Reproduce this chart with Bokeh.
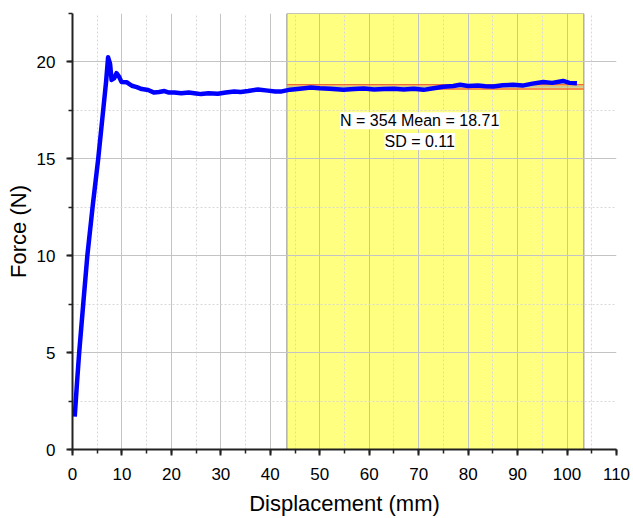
from bokeh.plotting import figure
from bokeh.models import Range1d, Label, SingleIntervalTicker, ColumnDataSource
from bokeh.embed import file_html
from bokeh.resources import INLINE

# displacement (mm) and force (N)
disp = [0.45, 0.9, 1.35, 2.2, 3.0, 4.1, 5.2, 6.2, 6.8, 7.2, 7.6, 7.9, 8.4, 8.9, 9.4, 9.9, 11.0,
        12.0, 13.0, 14.0, 15.3, 16.5, 17.5, 18.6, 19.5, 20.6, 22.0, 23.5, 25.0, 26.0, 27.5,
        29.4, 31.0, 32.7, 34.0, 35.5, 37.5, 39.5, 41.0, 42.1, 44.0, 46.0, 48.2, 50.0, 52.0,
        54.8, 57.0, 58.9, 61.0, 63.0, 65.0, 67.0, 69.0, 71.0, 73.0, 75.0, 77.0, 78.4, 80.0,
        82.0, 83.5, 85.1, 87.0, 89.1, 91.0, 93.0, 95.2, 97.0, 99.2, 100.5, 102.0]
force = [1.7, 3.4, 5.0, 7.6, 10.0, 12.6, 15.0, 17.5, 19.0, 20.24, 19.9, 19.07, 19.15, 19.42, 19.25, 18.97, 18.95,
         18.77, 18.7, 18.6, 18.55, 18.42, 18.45, 18.5, 18.42, 18.42, 18.38, 18.42, 18.37, 18.34, 18.38,
         18.36, 18.42, 18.48, 18.45, 18.5, 18.58, 18.52, 18.48, 18.47, 18.57, 18.62, 18.68, 18.64, 18.62,
         18.56, 18.6, 18.63, 18.58, 18.6, 18.62, 18.58, 18.62, 18.56, 18.64, 18.72, 18.76, 18.82, 18.76,
         18.78, 18.74, 18.73, 18.8, 18.82, 18.78, 18.88, 18.97, 18.92, 19.02, 18.92, 18.9]

# statistics region
region_start = 43.35
region_end = 103.4
n_points = 354
mean_force = 18.71
sd_force = 0.11

x_ticks_step = 10
y_ticks_step = 5

FONT = "Liberation Sans"

p = figure(width=632, height=518, output_backend="svg", toolbar_location=None,
           x_range=Range1d(0, 110), y_range=Range1d(0, 22.5),
           min_border_left=72, min_border_top=13, min_border_bottom=66, min_border_right=16)
p.outline_line_color = None
p.background_fill_color = "white"
p.border_fill_color = "white"

# yellow statistics region (beneath grid)
p.quad(left=[region_start], right=[region_end], bottom=[0], top=[22.5],
       fill_color="#ffff80", line_color="#8c8c8c", line_width=1, level="image")

# axes
p.xaxis.ticker = SingleIntervalTicker(interval=x_ticks_step, num_minor_ticks=2)
p.yaxis.ticker = SingleIntervalTicker(interval=y_ticks_step, num_minor_ticks=2)
for ax in (p.xaxis[0], p.yaxis[0]):
    ax.axis_line_color = "#222222"
    ax.axis_line_width = 2
    ax.major_tick_line_color = "#222222"
    ax.major_tick_line_width = 2
    ax.minor_tick_line_color = "#222222"
    ax.minor_tick_line_width = 1.5
    ax.major_tick_out = 6
    ax.major_tick_in = 0
    ax.minor_tick_out = 4
    ax.minor_tick_in = 0
    ax.major_label_text_font = FONT
    ax.major_label_text_color = "black"
    ax.axis_label_text_font = FONT
    ax.axis_label_text_font_style = "normal"
    ax.axis_label_text_color = "black"
    ax.axis_label_text_font_size = "22px"

p.xaxis.major_label_text_font_size = "17px"
p.yaxis.major_label_text_font_size = "17px"
p.xaxis.axis_label = "Displacement (mm)"
p.yaxis.axis_label = "Force (N)"
p.xaxis.major_label_standoff = 12
p.yaxis.major_label_standoff = 11
p.xaxis.axis_label_standoff = 8
p.yaxis.axis_label_standoff = 3

# grids
for g in (p.xgrid[0], p.ygrid[0]):
    g.grid_line_color = "#c4c4c4"
    g.grid_line_width = 1
    g.minor_grid_line_color = "#d8d8d8"
    g.minor_grid_line_dash = "2 2"
    g.minor_grid_line_width = 1

# mean and +/- SD lines
p.segment(x0=[region_start], x1=[region_end], y0=[mean_force], y1=[mean_force],
          line_color="#a0a0a0", line_width=1)
p.segment(x0=[region_start, region_start], x1=[region_end, region_end],
          y0=[mean_force + sd_force, mean_force - sd_force],
          y1=[mean_force + sd_force, mean_force - sd_force],
          line_color="#f06a3c", line_width=1.5)

# data curve
src = ColumnDataSource(dict(x=disp, y=force))
p.line("x", "y", source=src, line_color="#0000ff", line_width=4.5, line_join="round")

# statistics text
for txt, yy in ((f"N = {n_points} Mean = {mean_force:.2f}", 16.97),
                (f"SD = {sd_force:.2f}", 15.9)):
    p.add_layout(Label(x=70.2, y=yy, text=txt, text_align="center", text_baseline="middle",
                       text_font=FONT, text_font_size="16px", text_color="black",
                       background_fill_color="white", background_fill_alpha=1.0))

open("out.html", "w").write(file_html(p, INLINE))
